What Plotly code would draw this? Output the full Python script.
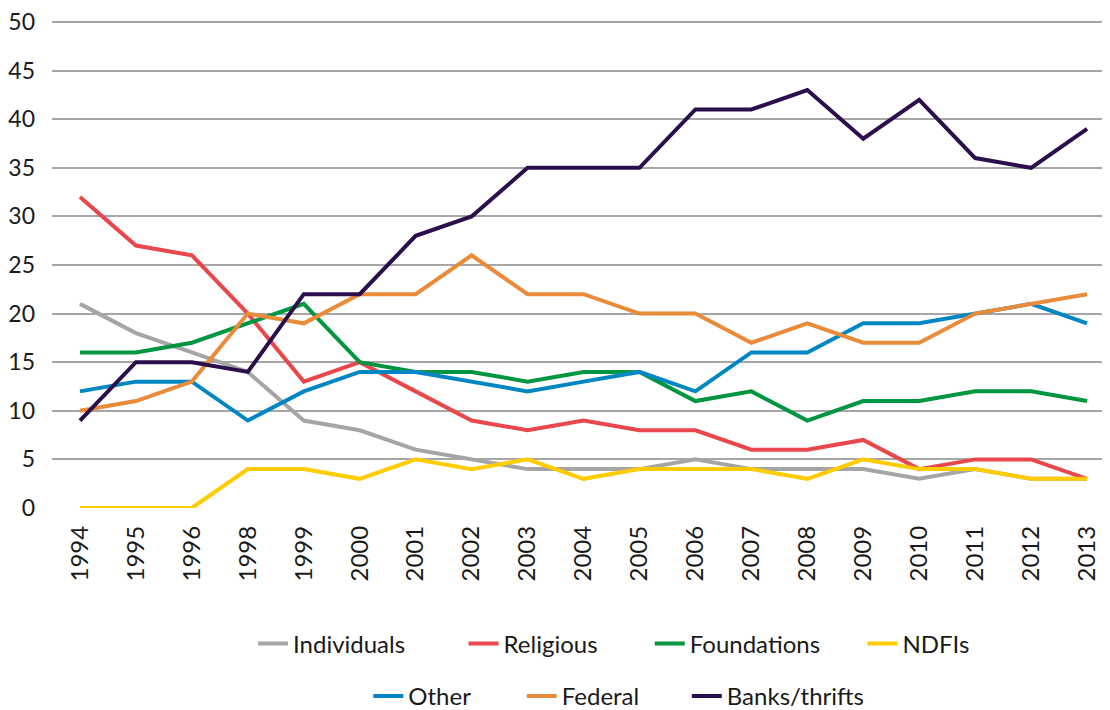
import plotly.graph_objects as go

years = ["1994", "1995", "1996", "1998", "1999", "2000", "2001", "2002", "2003", "2004",
         "2005", "2006", "2007", "2008", "2009", "2010", "2011", "2012", "2013"]

individuals = [21, 18, 16, 14, 9, 8, 6, 5, 4, 4, 4, 5, 4, 4, 4, 3, 4, 3, 3]
religious = [32, 27, 26, 20, 13, 15, 12, 9, 8, 9, 8, 8, 6, 6, 7, 4, 5, 5, 3]
foundations = [16, 16, 17, 19, 21, 15, 14, 14, 13, 14, 14, 11, 12, 9, 11, 11, 12, 12, 11]
ndfis = [0, 0, 0, 4, 4, 3, 5, 4, 5, 3, 4, 4, 4, 3, 5, 4, 4, 3, 3]
other = [12, 13, 13, 9, 12, 14, 14, 13, 12, 13, 14, 12, 16, 16, 19, 19, 20, 21, 19]
federal = [10, 11, 13, 20, 19, 22, 22, 26, 22, 22, 20, 20, 17, 19, 17, 17, 20, 21, 22]
banks = [9, 15, 15, 14, 22, 22, 28, 30, 35, 35, 35, 41, 41, 43, 38, 42, 36, 35, 39]

names = ["Individuals", "Religious", "Foundations", "NDFIs", "Other", "Federal", "Banks/thrifts"]
values = [individuals, religious, foundations, ndfis, other, federal, banks]
colors = ["#A5A5A5", "#E8474C", "#00953F", "#FFCC00", "#0087C3", "#E98B38", "#2A0F4C"]

y_ticks = [0, 5, 10, 15, 20, 25, 30, 35, 40, 45, 50]

# legend placement (paper coords): one legend box per entry, two centred rows
leg_x = [0.190, 0.389, 0.565, 0.766, 0.299, 0.444, 0.600]
leg_y = [-0.274, -0.274, -0.274, -0.274, -0.380, -0.380, -0.380]

font_family = "Lato, Open Sans, sans-serif"

fig = go.Figure()
legend_layout = {}
for i, (name, vals, color) in enumerate(zip(names, values, colors)):
    lid = "legend" if i == 0 else f"legend{i + 1}"
    fig.add_trace(go.Scatter(
        x=years, y=vals, name=name, mode="lines",
        line=dict(color=color, width=4),
        legend=lid,
    ))
    legend_layout[lid] = dict(
        orientation="h", x=leg_x[i], xanchor="left", y=leg_y[i], yanchor="middle",
        font=dict(size=24), bgcolor="rgba(0,0,0,0)",
    )

fig.update_layout(
    width=1110, height=718,
    margin=dict(l=44, r=8, t=4, b=218),
    paper_bgcolor="white", plot_bgcolor="white",
    font=dict(family=font_family, size=24, color="#1a1a1a"),
    xaxis=dict(
        type="category", range=[-0.5, 18.41],
        tickangle=-90, showgrid=False, showline=False, zeroline=False,
        ticks="", ticklabelstandoff=12, automargin=False,
        ticklabeloverflow="allow",
        tickfont=dict(size=24),
    ),
    yaxis=dict(
        range=[0, 51.03], tickmode="array", tickvals=y_ticks,
        ticktext=[str(v) for v in y_ticks],
        showgrid=True, gridcolor="#A6A6A6", gridwidth=1.5,
        zeroline=False, showline=False, ticks="", automargin=False,
        ticklabeloverflow="allow",
        ticklabelstandoff=16, tickfont=dict(size=23),
    ),
    showlegend=True,
    **legend_layout,
)

fig.write_html("out.html")
